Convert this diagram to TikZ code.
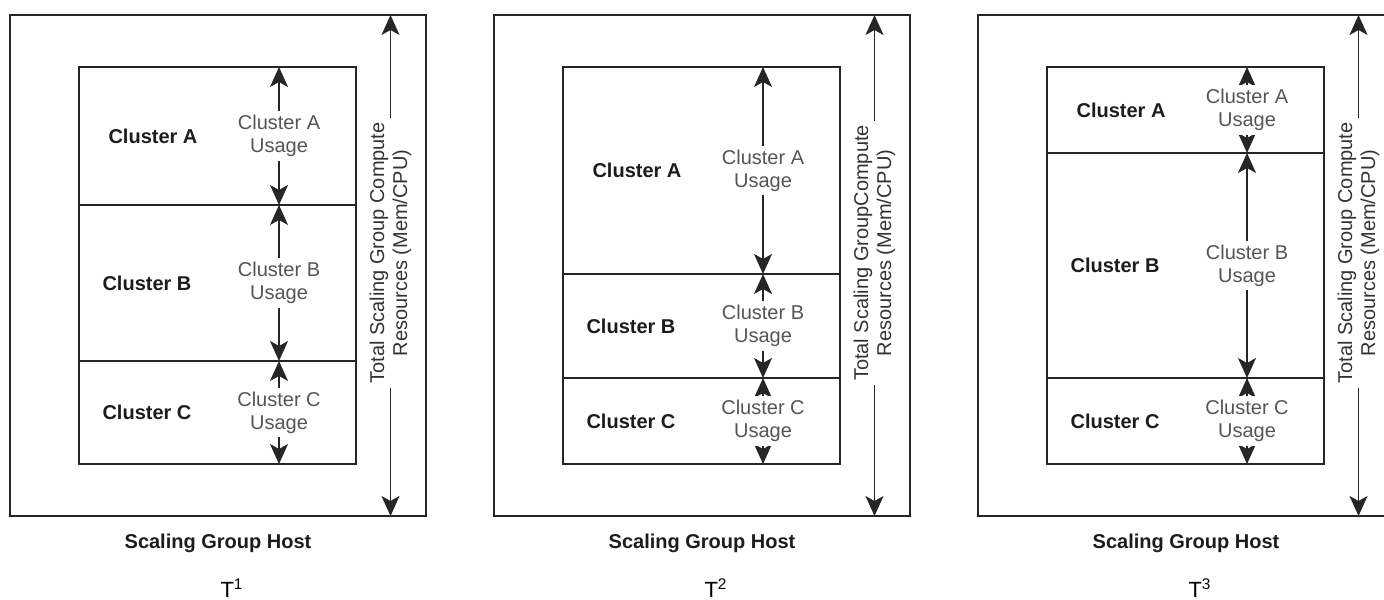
\documentclass[tikz,border=0pt]{standalone}
\usepackage{fontspec}
\setmainfont{Liberation Sans}
\usetikzlibrary{arrows.meta}
\definecolor{labelgray}{HTML}{1C1C1C}
\definecolor{usagegray}{HTML}{555555}
\definecolor{totalgray}{HTML}{333333}
\begin{document}
\begin{tikzpicture}
	[x=0.5pt,y=-0.5pt,line width=0.7pt,draw=black!85,
	every node/.style={inner sep=1pt,font=\fontsize{10}{11.5}\selectfont},
	cluster/.style={font=\fontsize{10}{11.5}\selectfont\bfseries,text=labelgray},
	usage/.style={fill=white,align=center,text=usagegray,inner sep=2pt},
	total/.style={fill=white,align=center,rotate=90,text=totalgray,inner sep=2pt},
	both/.style={{Stealth[length=10pt,width=9pt,inset=2.5pt]}-{Stealth[length=10pt,width=9pt,inset=2.5pt]}},]
	\useasboundingbox (0,0) rectangle (1384,599);
	\foreach \i/\ya/\yb/\grp in {1/205/361/Group Compute,2/274/378/GroupCompute,3/153/378/Group Compute}{
		\begin{scope}[xshift=\i*242pt-242pt]
			% host and cluster stack
			\draw (10,15) rectangle (426,516);
			\draw (79,67) rectangle (356,464);
			\draw (79,\ya) -- (356,\ya);
			\draw (79,\yb) -- (356,\yb);
			\coordinate (top\i) at (279,67);
			\coordinate (ab\i) at (279,\ya);
			\coordinate (bc\i) at (279,\yb);
			\coordinate (bot\i) at (279,464);
			\coordinate (hosttop\i) at (390.5,15);
			\coordinate (hostbot\i) at (390.5,516);
			\node[cluster] (ca\i) at (153,{(67+\ya)/2}) {Cluster A};
			\node[cluster] (cb\i) at (147,{(\ya+\yb)/2}) {Cluster B};
			\node[cluster] (cc\i) at (147,{(\yb+464)/2}) {Cluster C};
			% usage arrows
			\draw[both] (top\i) -- (ab\i) node[usage,midway] (ua\i) {Cluster A\\Usage};
			\draw[both] (ab\i) -- (bc\i) node[usage,midway] (ub\i) {Cluster B\\Usage};
			\draw[both] (bc\i) -- (bot\i) node[usage,midway] (uc\i) {Cluster C\\Usage};
			\draw[both] (hosttop\i) -- (hostbot\i) node[total,pos=0.475] (res\i) {Total Scaling \grp\\Resources (Mem/CPU)};
			\node[cluster,anchor=base] (host\i) at (218,548) {Scaling Group Host};
			\node[anchor=base,font=\fontsize{11}{13}\selectfont] (time\i) at (232,597) {T\textsuperscript{\i}};
		\end{scope}
	}
\end{tikzpicture}
\end{document}
